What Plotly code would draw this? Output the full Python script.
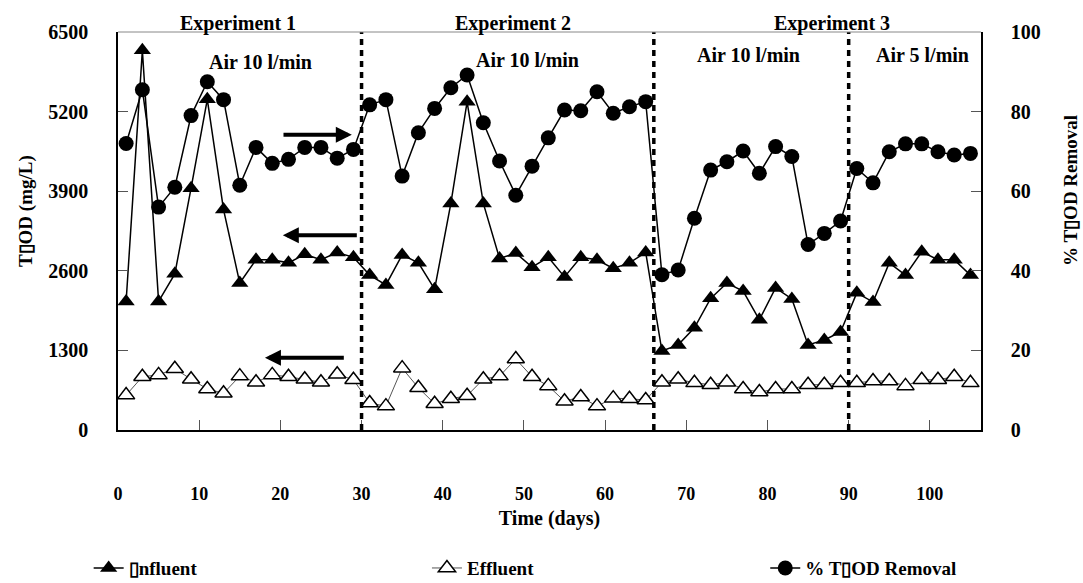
import plotly.graph_objects as go

# Sampling days (every second day across the three experiments)
days = list(range(1, 106, 2))

influent = [2100, 6200, 2100, 2550, 3950, 5400, 3600, 2400, 2780, 2780,
            2730, 2870, 2780, 2900, 2820,
            2530, 2370, 2860, 2730, 2300, 3700, 5360, 3700, 2800, 2890,
            2660, 2820, 2500, 2820, 2780, 2640, 2730, 2900,
            1290, 1390, 1670, 2150, 2400, 2270, 1800, 2320, 2140, 1390,
            1470, 1600, 2240, 2090, 2730, 2530, 2910, 2780, 2780, 2530]

effluent = [570, 870, 900, 1000, 830, 670, 600, 880, 780, 900,
            870, 830, 780, 910, 820,
            440, 390, 1010, 690, 430, 510, 560, 830, 880, 1160,
            870, 720, 470, 540, 390, 520, 510, 490,
            780, 830, 770, 740, 780, 670, 620, 670, 670, 740,
            740, 770, 770, 800, 800, 720, 820, 820, 870, 770]

removal = [72, 85.5, 56, 61, 79, 87.5, 83, 61.5, 71, 67,
           68, 71, 71, 68.3, 70.5,
           81.7, 83, 63.8, 74.7, 80.8, 86, 89.2, 77.2, 67.6, 59,
           66.3, 73.4, 80.4, 80.2, 85, 79.6, 81.2, 82.5,
           39, 40.2, 53.2, 65.3, 67.4, 70.1, 64.5, 71.2, 68.7, 46.6,
           49.4, 52.5, 65.7, 62.1, 69.9, 71.9, 71.9, 69.9, 69.1, 69.5]

x_ticks = [0, 10, 20, 30, 40, 50, 60, 70, 80, 90, 100]
y_ticks = [0, 1300, 2600, 3900, 5200, 6500]
y2_ticks = [0, 20, 40, 60, 80, 100]

phase_bounds = [30, 66, 90]
experiment_labels = [("Experiment 1", 14.8), ("Experiment 2", 48.6), ("Experiment 3", 88.0)]
air_labels = [("Air 10 l/min", 17.5, 6010), ("Air 10 l/min", 50.5, 6040),
              ("Air 10 l/min", 77.6, 6120), ("Air 5 l/min", 99.1, 6120)]

FONT = "Liberation Serif"
BOX = "\u25AF"
left_title = "T" + BOX + "OD (mg/L)"
right_title = "% T" + BOX + "OD Removal"


def bold(size):
    return dict(family=FONT, size=size, color="black", weight="bold")


fig = go.Figure()

fig.add_trace(go.Scatter(
    x=days, y=influent, name=BOX + "nfluent", mode="lines+markers",
    legend="legend",
    line=dict(color="black", width=1.5),
    marker=dict(symbol="triangle-up", size=15, color="black"),
))
fig.add_trace(go.Scatter(
    x=days, y=effluent, name="Effluent", mode="lines+markers",
    legend="legend2",
    line=dict(color="#555555", width=1),
    marker=dict(symbol="triangle-up", size=15, color="white",
                line=dict(color="black", width=1.5)),
))
fig.add_trace(go.Scatter(
    x=days, y=removal, name=right_title, mode="lines+markers",
    yaxis="y2", legend="legend3",
    line=dict(color="black", width=1.5),
    marker=dict(symbol="circle", size=15, color="black"),
))

# Phase separators
for xb in phase_bounds:
    fig.add_shape(type="line", xref="x", yref="paper", x0=xb, x1=xb, y0=0, y1=1,
                  line=dict(color="black", width=3.5, dash="6px,5px"))

# Top frame line
fig.add_shape(type="line", xref="paper", yref="paper", x0=0, x1=1, y0=1, y1=1,
              line=dict(color="#888888", width=1))

annotations = []
for text, xc in experiment_labels:
    annotations.append(dict(x=xc, y=1.0, xref="x", yref="paper", yanchor="middle",
                            yshift=9, text=text, showarrow=False, font=bold(20)))
for text, xc, yc in air_labels:
    annotations.append(dict(x=xc, y=yc, xref="x", yref="y", text=text,
                            showarrow=False, font=bold(20)))

# Vertical axis titles
annotations.append(dict(x=-0.1066, y=0.55, xref="paper", yref="paper",
                        text=left_title, textangle=-90, showarrow=False,
                        xanchor="center", yanchor="middle", font=bold(19)))
annotations.append(dict(x=1.1031, y=0.603, xref="paper", yref="paper",
                        text=right_title, textangle=-90, showarrow=False,
                        xanchor="center", yanchor="middle", font=bold(19)))

# Arrows pointing to the axis each series belongs to
arrows = [(20.2, 28.8, 4820), (29.6, 20.3, 3180), (28.0, 18.1, 1180)]
for x_tail, x_tip, yv in arrows:
    annotations.append(dict(x=x_tip, y=yv, ax=x_tail, ay=yv, xref="x", yref="y",
                            axref="x", ayref="y", text="", showarrow=True,
                            arrowhead=2, arrowsize=0.8, arrowwidth=4,
                            arrowcolor="black", standoff=0, startstandoff=0))

legend_style = dict(orientation="h", y=-0.347, xanchor="left", yanchor="middle",
                    font=bold(19), bgcolor="rgba(0,0,0,0)")

fig.update_layout(
    width=1083, height=583,
    margin=dict(l=118, r=102, t=32, b=153, autoexpand=False),
    plot_bgcolor="white", paper_bgcolor="white",
    font=dict(family=FONT, size=15, color="black"),
    annotations=annotations,
    showlegend=True,
    legend=dict(x=-0.034, **legend_style),
    legend2=dict(x=0.358, **legend_style),
    legend3=dict(x=0.750, **legend_style),
    xaxis=dict(
        range=[0, 106.3], tickmode="array", tickvals=x_ticks,
        ticks="inside", ticklen=10, tickcolor="#555555", tickwidth=1,
        showline=True, linecolor="black", linewidth=1.5,
        showgrid=False, zeroline=False,
        ticklabelstandoff=47,
        tickfont=bold(18),
        title=dict(text="Time (days)", standoff=8, font=bold(20)),
    ),
    yaxis=dict(
        range=[0, 6500], tickmode="array", tickvals=y_ticks,
        ticks="inside", ticklen=10, tickcolor="#555555", tickwidth=1,
        showline=True, linecolor="black", linewidth=1.5,
        showgrid=False, zeroline=False,
        ticklabelstandoff=24,
        tickfont=bold(20),
    ),
    yaxis2=dict(
        range=[0, 100], tickmode="array", tickvals=y2_ticks,
        overlaying="y", side="right",
        ticks="inside", ticklen=10, tickcolor="#555555", tickwidth=1,
        showline=True, linecolor="black", linewidth=1.5,
        showgrid=False, zeroline=False,
        ticklabelstandoff=24,
        tickfont=bold(20),
    ),
)

fig.write_html("out.html")
